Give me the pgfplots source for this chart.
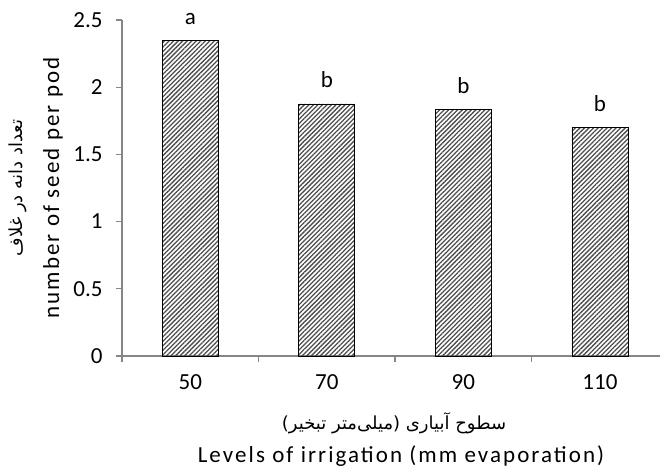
\documentclass[border=0pt]{standalone}
\usepackage{pgfplots}
\pgfplotsset{compat=1.18}
\usepackage{fontspec}
\setmainfont{Carlito}
\newfontfamily\widefont[LetterSpace=9]{Carlito}
\newfontfamily\arabicfont[Script=Arabic]{DejaVu Sans}
\usetikzlibrary{patterns.meta}
\TeXXeTstate=1
\definecolor{axgray}{HTML}{868686}
\begin{document}
\begin{tikzpicture}[x=1pt,y=1pt]
\useasboundingbox (0,0) rectangle (662,468);
\begin{axis}[
  at={(122pt,112pt)}, anchor=south west,
  scale only axis, width=538pt, height=336pt,
  xmin=-0.5, xmax=3.44, ymin=0, ymax=2.5,
  clip=false,
  axis lines*=left,
  axis line style={axgray, line width=1.2pt},
  tick style={axgray, line width=1.2pt},
  major tick length=6pt,
  tick align=outside,
  ytick={0,0.5,1,1.5,2,2.5},
  yticklabel style={font=\fontsize{23}{26}\selectfont, text=black, xshift=-10pt},
  /pgf/number format/assume math mode=true,
  xtick={-0.5,0.5,1.5,2.5}, xticklabels={},
  extra x ticks={0,1,2,3}, extra x tick labels={50,70,90,110},
  extra x tick style={major tick length=0pt, xticklabel style={font=\fontsize{23}{26}\selectfont, text=black, yshift=-15pt}},
]
\addplot[ybar, bar width=56pt, draw=black, line width=0.8pt,
  pattern={Lines[angle=45,distance=3.2pt,line width=1.3pt]}, pattern color=black!70,
  nodes near coords, point meta=explicit symbolic,
  nodes near coords style={font=\fontsize{23}{26}\selectfont, text=black, anchor=base, yshift=16pt}]
  coordinates {(0,2.35)[a] (1,1.875)[b] (2,1.835)[b] (3,1.70)[b]};
\end{axis}
\node[rotate=90, font=\widefont\fontsize{23}{26}\selectfont] at (53,280) {number of seed per pod};
\node[rotate=90, font=\arabicfont\fontsize{18}{20}\selectfont] at (18,280) {\beginR تعداد دانه در غلاف\endR};
\node[anchor=base, font=\widefont\fontsize{23}{26}\selectfont] at (401,5) {Levels of irrigation (mm evaporation)};
\node[font=\arabicfont\fontsize{18}{20}\selectfont] at (394,45) {\beginR سطوح آبیاری (میلی‌متر تبخیر)\endR};
\end{tikzpicture}
\end{document}
